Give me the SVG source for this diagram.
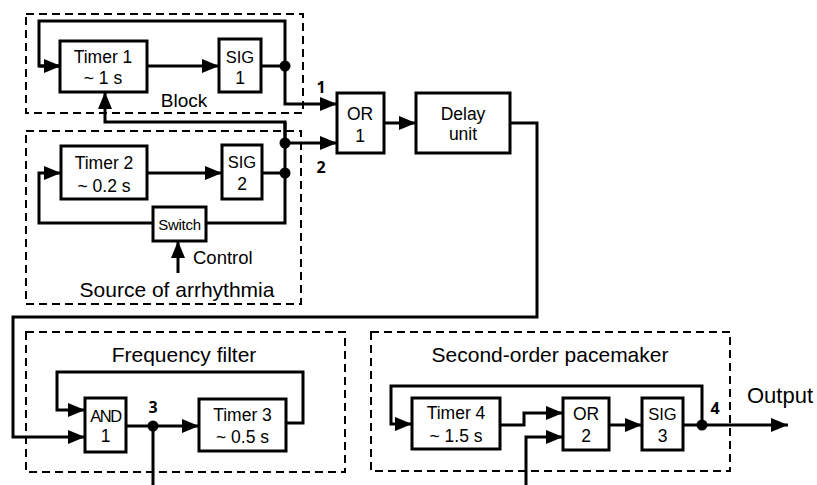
<svg xmlns="http://www.w3.org/2000/svg" width="817" height="485" viewBox="0 0 817 485">
<defs>
<marker id="arr" markerUnits="userSpaceOnUse" markerWidth="18" markerHeight="14" refX="17" refY="7" orient="auto">
<path d="M0,0 L17,7 L0,14 Z" fill="#000"/>
</marker>
<style>
.box{fill:#fff;stroke:#000;stroke-width:3}
.grp{fill:none;stroke:#000;stroke-width:2;stroke-dasharray:8,5}
.ln{fill:none;stroke:#000;stroke-width:3}
.ar{marker-end:url(#arr)}
.t{font-family:"Liberation Sans",Arial,sans-serif;fill:#000;text-anchor:middle}
.bt{font-size:17.5px}
.lb{font-size:21px}
.num{font-family:"Open Sans","Liberation Sans",sans-serif;font-weight:bold;font-size:16px;fill:#000;text-anchor:middle}
</style>
</defs>
<rect width="817" height="485" fill="#fff"/>

<g id="groups">
<rect class="grp" x="26" y="14" width="277" height="99"/>
<rect class="grp" x="26" y="131" width="275" height="173"/>
<rect class="grp" x="26" y="332" width="319" height="140"/>
<rect class="grp" x="371" y="332" width="359" height="139"/>
<text class="t" x="184" y="107" style="font-size:19px">Block</text>
<text class="t lb" x="177" y="297">Source of arrhythmia</text>
<text class="t lb" x="184" y="362">Frequency filter</text>
<text class="t lb" x="550" y="362">Second-order pacemaker</text>
</g>

<g id="connectors">
<path class="ln" d="M285,66 V21 H39 V66 H60"/>
<path class="ln ar" d="M39,66 H61"/>
<path class="ln ar" d="M147,66 H219"/>
<path class="ln" d="M261,66 H285"/>
<path class="ln ar" d="M285,66 V104 H337"/>
<path class="ln ar" d="M285,143 V122 H105 V92"/>
<path class="ln" d="M285,122 V223 H206"/>
<path class="ln ar" d="M153,223 H39 V173 H61"/>
<path class="ln ar" d="M285,143 H337"/>
<path class="ln ar" d="M147,173 H222"/>
<path class="ln" d="M262,173 H285"/>
<path class="ln ar" d="M178,273 V241"/>
<path class="ln ar" d="M384,123 H416"/>
<path class="ln ar" d="M510,123 H537 V317 H13 V437 H85"/>
<path class="ln ar" d="M286,423 H303 V372 H57 V410 H85"/>
<path class="ln ar" d="M126,426 H199"/>
<path class="ln" d="M153,426 V485"/>
<path class="ln ar" d="M500,425 H524 V413 H563"/>
<path class="ln ar" d="M526,485 V437 H563"/>
<path class="ln ar" d="M609,425 H642"/>
<path class="ln ar" d="M683,425 H788"/>
<path class="ln ar" d="M702,425 V386 H391 V424 H412"/>
<circle cx="285" cy="66" r="5.5"/>
<circle cx="285" cy="143" r="5.5"/>
<circle cx="285" cy="173" r="5.5"/>
<circle cx="153" cy="426" r="5.5"/>
<circle cx="702" cy="425" r="5.5"/>
<text class="num" x="321" y="93">1</text>
<text class="num" x="321" y="173">2</text>
<text class="num" x="153" y="413">3</text>
<text class="num" x="715" y="414">4</text>
<text class="t" x="193" y="264" style="font-size:18.5px;text-anchor:start">Control</text>
<text class="t" x="747" y="403" style="font-size:22px;text-anchor:start">Output</text>
</g>

<g id="timer1"><rect class="box" x="60" y="41" width="87" height="51"/>
<text class="t bt" x="103" y="63">Timer 1</text><text class="t bt" x="103" y="84">~ 1 s</text></g>
<g id="sig1"><rect class="box" x="219" y="39" width="42" height="53"/>
<text class="t" x="240" y="63" style="font-size:16.5px">SIG</text><text class="t bt" x="240" y="84">1</text></g>
<g id="or1"><rect class="box" x="337" y="93" width="47" height="60"/>
<text class="t bt" x="360" y="120">OR</text><text class="t bt" x="360" y="142">1</text></g>
<g id="delay"><rect class="box" x="416" y="93" width="94" height="60"/>
<text class="t bt" x="463" y="120">Delay</text><text class="t bt" x="463" y="140">unit</text></g>
<g id="timer2"><rect class="box" x="61" y="146" width="86" height="53"/>
<text class="t bt" x="104" y="169">Timer 2</text><text class="t bt" x="104" y="192">~ 0.2 s</text></g>
<g id="sig2"><rect class="box" x="222" y="145" width="40" height="54"/>
<text class="t" x="242" y="168" style="font-size:16.5px">SIG</text><text class="t bt" x="242" y="190">2</text></g>
<g id="switch"><rect class="box" x="153" y="207" width="53" height="34"/>
<text class="t" x="179.5" y="230" style="font-size:15px;letter-spacing:-0.3px">Switch</text></g>
<g id="and1"><rect class="box" x="85" y="398" width="41" height="54"/>
<text class="t" x="105.5" y="422" style="font-size:16.5px;letter-spacing:-1.5px">AND</text><text class="t bt" x="105.5" y="442">1</text></g>
<g id="timer3"><rect class="box" x="199" y="399" width="87" height="52"/>
<text class="t bt" x="242.5" y="421">Timer 3</text><text class="t bt" x="242.5" y="443">~ 0.5 s</text></g>
<g id="timer4"><rect class="box" x="412" y="398" width="88" height="51"/>
<text class="t bt" x="456" y="419">Timer 4</text><text class="t bt" x="456" y="442">~ 1.5 s</text></g>
<g id="or2"><rect class="box" x="563" y="398" width="46" height="52"/>
<text class="t bt" x="586" y="420">OR</text><text class="t bt" x="586" y="442">2</text></g>
<g id="sig3"><rect class="box" x="642" y="398" width="41" height="52"/>
<text class="t" x="662.5" y="420" style="font-size:16.5px">SIG</text><text class="t bt" x="662.5" y="442">3</text></g>
</svg>
